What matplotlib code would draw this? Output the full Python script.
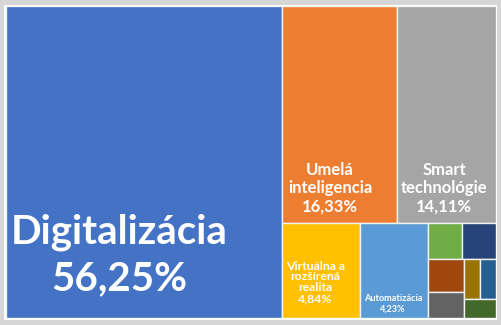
import matplotlib
matplotlib.use('Agg')
import matplotlib.pyplot as plt
from matplotlib.patches import Rectangle

# ---- data ----
categories = ['Digitalizácia', 'Umelá\ninteligencia', 'Smart\ntechnológie',
              'Virtuálna a\nrozšírená\nrealita', 'Automatizácia',
              '', '', '', '', '', '', '']
values = [56.25, 16.33, 14.11, 4.84, 4.23, 0.82, 0.80, 0.78, 0.62, 0.42, 0.41, 0.39]
value_labels = ['56,25%', '16,33%', '14,11%', '4,84%', '4,23%',
                '', '', '', '', '', '', '']
colors = ['#4472C4', '#ED7D31', '#A5A5A5', '#FFC000', '#5B9BD5', '#70AD47',
          '#264478', '#9E480E', '#636363', '#997300', '#255E91', '#43682B']
# grouping of items into strips (layout structure)
row_sizes = [1, 2, 1, 1, 2, 2, 2, 1]

# label styles: (fx, fy_from_top, fontsize, linespacing)
label_style = {
    0: (0.41, 0.80, 29, 1.3),
    1: (0.42, 0.84, 12, 1.15),
    2: (0.48, 0.84, 12, 1.15),
    3: (0.43, 0.625, 8.8, 0.98),
    4: (0.49, 0.85, 6.6, 1.3),
}

W, H = 490.0, 312.0


def layout(vals, rows, x, y, w, h):
    rects = []
    i = 0
    remaining = sum(vals)
    for n in rows:
        grp = vals[i:i + n]
        s = sum(grp)
        frac = s / remaining
        if w >= h:  # vertical strip on the left
            sw = w * frac
            yy = y + h
            for v in grp:
                hh = h * v / s
                rects.append((x, yy - hh, sw, hh))
                yy -= hh
            x += sw
            w -= sw
        else:  # horizontal strip on top
            sh = h * frac
            xx = x
            for v in grp:
                ww = w * v / s
                rects.append((xx, y + h - sh, ww, sh))
                xx += ww
            h -= sh
        remaining -= s
        i += n
    return rects


fig = plt.figure(figsize=(5.02, 3.25), dpi=100)
fig.patch.set_facecolor('#d6d6d6')

bg = fig.add_axes([0, 0, 1, 1])
bg.set_xlim(0, 502)
bg.set_ylim(325, 0)
bg.axis('off')
bg.add_patch(Rectangle((4.5, 5), 493, 315, facecolor='white', edgecolor='none'))

ax = fig.add_axes([6 / 502, 7 / 325, W / 502, H / 325])
ax.set_xlim(0, W)
ax.set_ylim(0, H)
ax.axis('off')

rects = layout(values, row_sizes, 0, 0, W, H)
for i, (rx, ry, rw, rh) in enumerate(rects):
    ax.add_patch(Rectangle((rx, ry), rw, rh, facecolor=colors[i],
                           edgecolor='#f2f2f2', linewidth=1.0))
    if i in label_style and categories[i]:
        fx, fy, fs, ls = label_style[i]
        ax.text(rx + fx * rw, ry + rh * (1 - fy),
                categories[i] + '\n' + value_labels[i],
                ha='center', va='center', multialignment='center',
                color='white', fontsize=fs, fontweight='bold',
                family=['Lato', 'DejaVu Sans'], linespacing=ls)

fig.savefig('out.png', dpi=100, facecolor=fig.get_facecolor())
